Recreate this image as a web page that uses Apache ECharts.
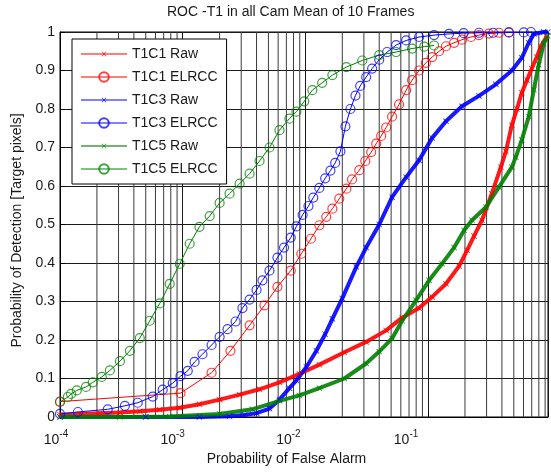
<!DOCTYPE html>
<html>
<head>
<meta charset="utf-8">
<script src="https://cdn.jsdelivr.net/npm/echarts@6/dist/echarts.min.js"></script>
<style>
  html, body { margin: 0; padding: 0; background: #fff; }
  #chart { width: 551px; height: 472px; }
</style>
</head>
<body>
<div id="chart"></div>
<script>
// ROC curves: probability of detection vs probability of false alarm (log x)
const xTickExponents = [-4, -3, -2, -1];
const yTickValues = [0, 0.1, 0.2, 0.3, 0.4, 0.5, 0.6, 0.7, 0.8, 0.9, 1];
const minorMultipliers = [2, 3, 4, 5, 6, 7, 8, 9];

// [false alarm rate, detection rate]
const t1c1Raw = [
  [1.0e-4, 0.006], [1.45e-4, 0.008], [2.11e-4, 0.010], [3.08e-4, 0.012], [4.47e-4, 0.015],
  [6.5e-4, 0.019], [9.46e-4, 0.024], [1.37e-3, 0.033], [2.0e-3, 0.045], [2.91e-3, 0.058],
  [4.23e-3, 0.072], [6.15e-3, 0.09], [8.94e-3, 0.112], [1.30e-2, 0.136], [2.08e-2, 0.168],
  [3.13e-2, 0.195], [4.56e-2, 0.225], [6.15e-2, 0.258], [8.45e-2, 0.283], [0.108, 0.312],
  [0.140, 0.346], [0.179, 0.392], [0.208, 0.433], [0.237, 0.47], [0.275, 0.511],
  [0.331, 0.58], [0.392, 0.649], [0.431, 0.69], [0.482, 0.758], [0.53, 0.80],
  [0.581, 0.842], [0.64, 0.875], [0.701, 0.905], [0.77, 0.935], [0.829, 0.962], [0.927, 0.988]
];
const t1c1Elrcc = [
  [1.0e-4, 0.04], [9.6e-4, 0.062], [1.72e-3, 0.115], [2.45e-3, 0.172], [3.51e-3, 0.238],
  [4.64e-3, 0.29], [5.92e-3, 0.338], [7.6e-3, 0.38], [9.27e-3, 0.424], [1.11e-2, 0.463],
  [1.30e-2, 0.498], [1.48e-2, 0.52], [1.66e-2, 0.541], [1.89e-2, 0.567], [2.16e-2, 0.593],
  [2.4e-2, 0.617], [2.75e-2, 0.641], [3.08e-2, 0.665], [3.44e-2, 0.688], [3.78e-2, 0.71],
  [4.15e-2, 0.73], [4.56e-2, 0.752], [5.09e-2, 0.78], [5.8e-2, 0.812], [6.63e-2, 0.849],
  [7.41e-2, 0.875], [8.45e-2, 0.9], [9.6e-2, 0.92], [0.108, 0.935], [0.123, 0.95],
  [0.140, 0.963], [0.163, 0.972], [0.189, 0.98], [0.224, 0.987], [0.260, 0.992],
  [0.313, 0.996], [0.378, 0.998], [0.456, 0.999]
];
const t1c3Raw = [
  [1.0e-4, 0], [5.0e-4, 0], [1.37e-3, 0], [2.41e-3, 0.002], [3.2e-3, 0.005], [4.0e-3, 0.01],
  [5.1e-3, 0.022], [6.15e-3, 0.045], [7.41e-3, 0.075], [8.45e-3, 0.095], [1.02e-2, 0.13],
  [1.23e-2, 0.172], [1.45e-2, 0.215], [1.66e-2, 0.255], [2.0e-2, 0.308], [2.6e-2, 0.39],
  [3.13e-2, 0.44], [4.0e-2, 0.5], [5.09e-2, 0.571], [6.63e-2, 0.623], [8.45e-2, 0.667],
  [0.108, 0.725], [0.140, 0.768], [0.189, 0.807], [0.26, 0.834], [0.357, 0.864],
  [0.482, 0.9], [0.581, 0.933], [0.662, 0.972], [0.728, 0.995], [0.877, 1.0], [0.946, 1.0]
];
const t1c3Elrcc = [
  [1.0e-4, 0.008], [1.40e-4, 0.013], [2.45e-4, 0.02], [3.38e-4, 0.029], [4.30e-4, 0.037],
  [5.70e-4, 0.053], [6.87e-4, 0.071], [8.3e-4, 0.088], [9.6e-4, 0.106], [1.10e-3, 0.12],
  [1.25e-3, 0.143], [1.45e-3, 0.163], [1.72e-3, 0.187], [2.0e-3, 0.208], [2.32e-3, 0.228],
  [2.7e-3, 0.248], [3.07e-3, 0.283], [3.51e-3, 0.305], [4.0e-3, 0.33], [4.47e-3, 0.355],
  [5.1e-3, 0.38], [5.92e-3, 0.414], [6.7e-3, 0.44], [7.6e-3, 0.466], [8.45e-3, 0.495],
  [9.5e-3, 0.525], [1.06e-2, 0.548], [1.16e-2, 0.57], [1.30e-2, 0.595], [1.45e-2, 0.62],
  [1.6e-2, 0.64], [1.75e-2, 0.66], [1.93e-2, 0.69], [2.12e-2, 0.755], [2.33e-2, 0.8],
  [2.56e-2, 0.835], [2.8e-2, 0.86], [3.13e-2, 0.883], [3.5e-2, 0.905], [4.0e-2, 0.928],
  [4.64e-2, 0.948], [5.49e-2, 0.966], [6.63e-2, 0.978], [8.45e-2, 0.987], [0.112, 0.992],
  [0.148, 0.995], [0.195, 0.997], [0.26, 0.998], [0.34, 0.998], [0.456, 0.999],
  [0.603, 0.999], [0.69, 1.0]
];
const t1c5Raw = [
  [1.0e-4, 0], [3.08e-4, 0], [7.84e-4, 0.001], [2.0e-3, 0.008], [3.7e-3, 0.02],
  [6.15e-3, 0.042], [8.94e-3, 0.056], [1.30e-2, 0.075], [2.08e-2, 0.1], [3.13e-2, 0.139],
  [4.0e-2, 0.17], [5.09e-2, 0.204], [6.15e-2, 0.25], [7.98e-2, 0.303], [0.102, 0.355],
  [0.13, 0.398], [0.163, 0.44], [0.197, 0.485], [0.228, 0.511], [0.296, 0.545],
  [0.378, 0.597], [0.482, 0.649], [0.519, 0.675], [0.581, 0.72], [0.662, 0.78],
  [0.728, 0.85], [0.798, 0.915], [0.877, 0.97], [0.946, 0.99]
];
const t1c5Elrcc = [
  [1.0e-4, 0.039], [1.16e-4, 0.052], [1.23e-4, 0.06], [1.37e-4, 0.069], [1.63e-4, 0.078],
  [1.85e-4, 0.09], [2.19e-4, 0.104], [2.55e-4, 0.121], [3.08e-4, 0.145], [3.71e-4, 0.172],
  [4.47e-4, 0.205], [5.39e-4, 0.25], [6.5e-4, 0.295], [7.84e-4, 0.346], [9.46e-4, 0.398],
  [1.14e-3, 0.45], [1.37e-3, 0.494], [1.66e-3, 0.522], [2.0e-3, 0.556], [2.41e-3, 0.58],
  [2.91e-3, 0.606], [3.51e-3, 0.632], [4.23e-3, 0.665], [5.1e-3, 0.7], [6.15e-3, 0.745],
  [7.41e-3, 0.775], [8.45e-3, 0.793], [9.8e-3, 0.82], [1.14e-2, 0.849], [1.37e-2, 0.868],
  [1.66e-2, 0.888], [2.16e-2, 0.909], [2.91e-2, 0.926], [4.0e-2, 0.94], [5.49e-2, 0.948],
  [7.41e-2, 0.957], [9.3e-2, 0.962], [0.112, 0.965]
];

const RED = '#ff0000', BLUE = '#0000ff', GREEN = '#008000';
const TEXT = '#1a1a1a';
const FONT = 'Liberation Sans, Arial, sans-serif';

// small "x" marker; the empty corners keep the cross at half the symbol box
const CROSS = 'path://M0,0M20,20M5,6L6,5L10,9L14,5L15,6L11,10L15,14L14,15L10,11L6,15L5,14L9,10Z';

// minor log grid: 2..9 within each decade, one vertical segment each
const minorGrid = [];
xTickExponents.forEach(e => minorMultipliers.forEach(m => minorGrid.push(m * Math.pow(10, e))));
const minorGridSeries = minorGrid.map(v => ({
  type: 'line', data: [[v, 0], [v, 1]], symbol: 'none', silent: true, z: 1,
  lineStyle: { color: '#3a3a3a', width: 1 }, emphasis: { disabled: true }
}));

function rawSeries(name, data, color) {
  return {
    name, type: 'line', data, symbol: CROSS, symbolSize: 12,
    lineStyle: { color, width: 4, opacity: 0.9 },
    itemStyle: { color, opacity: 0.8 },
    emphasis: { disabled: true }
  };
}
function elrccSeries(name, data, color) {
  return {
    name, type: 'line', data, symbol: 'circle', symbolSize: 9,
    lineStyle: { color, width: 1 },
    itemStyle: { color: 'rgba(255,255,255,0)', borderColor: color, borderWidth: 1.2, opacity: 0.75 },
    emphasis: { disabled: true }
  };
}

// exponent labels drift a little left of their ticks
const richX = { b: { fontSize: 14, fontFamily: FONT, color: TEXT } };
const expShift = [4, 10, 17, 22];
xTickExponents.forEach((e, i) => {
  richX['s' + i] = { fontSize: 10, fontFamily: FONT, color: TEXT, padding: [0, expShift[i] * 2, 12, 0] };
});

const chart = echarts.init(document.getElementById('chart'), null, { renderer: 'canvas' });
chart.setOption({
  animation: false,
  backgroundColor: '#fff',
  title: {
    text: 'ROC -T1 in all Cam Mean of 10 Frames',
    left: 167, top: 5, padding: 0,
    textStyle: { fontSize: 14, fontWeight: 'normal', color: TEXT, fontFamily: FONT }
  },
  grid: { left: 60, top: 32, width: 489, height: 385, show: true, borderColor: '#000', borderWidth: 1 },
  legend: {
    orient: 'vertical', left: 72, top: 39,
    padding: [8, 9, 8, 8], itemGap: 9, itemWidth: 46, itemHeight: 12,
    backgroundColor: '#fff', borderColor: '#000', borderWidth: 1,
    textStyle: { fontSize: 14, color: TEXT, fontFamily: FONT },
    data: [
      { name: 'T1C1 Raw', lineStyle: { width: 2, color: '#ff6f6f' } },
      { name: 'T1C1 ELRCC', lineStyle: { width: 1, color: RED } },
      { name: 'T1C3 Raw', lineStyle: { width: 2, color: '#7070ff' } },
      { name: 'T1C3 ELRCC', lineStyle: { width: 1, color: BLUE } },
      { name: 'T1C5 Raw', lineStyle: { width: 2, color: '#66a866' } },
      { name: 'T1C5 ELRCC', lineStyle: { width: 1, color: GREEN } }
    ]
  },
  xAxis: {
    type: 'log', logBase: 10, min: 1e-4, max: 0.95,
    name: 'Probability of False Alarm', nameLocation: 'middle', nameGap: 34,
    nameTextStyle: { fontSize: 14, color: TEXT, fontFamily: FONT, padding: [0, 35, 0, 0] },
    axisLine: { show: true, lineStyle: { color: '#000', width: 1 } },
    axisTick: { show: true, inside: true, length: 5, lineStyle: { color: '#000' } },
    splitLine: { show: true, lineStyle: { color: '#1a1a1a', width: 1 } },
    axisLabel: {
      margin: 12,
      formatter: v => {
        const l = Math.log10(v), e = Math.round(l);
        if (Math.abs(l - e) > 1e-6) return '';
        const i = xTickExponents.indexOf(e);
        return i < 0 ? '' : '{b|10}{s' + i + '|' + e + '}';
      },
      rich: richX
    }
  },
  yAxis: {
    type: 'value', min: 0, max: 1, interval: 0.1,
    name: 'Probability of Detection [Target pixels]', nameLocation: 'middle', nameGap: 36,
    nameRotate: 90,
    nameTextStyle: { fontSize: 14, color: TEXT, fontFamily: FONT, padding: [0, 12, 0, 0] },
    axisLine: { show: true, lineStyle: { color: '#000', width: 1 } },
    axisTick: { show: true, inside: true, length: 5, lineStyle: { color: '#000' } },
    splitLine: { show: true, lineStyle: { color: '#1a1a1a', width: 1 } },
    axisLabel: {
      margin: 5, fontSize: 14, color: TEXT, fontFamily: FONT,
      formatter: v => {
        const k = yTickValues.findIndex(t => Math.abs(t - v) < 1e-9);
        if (k < 0) return '';
        const t = yTickValues[k];
        return (t === 0 || t === 1) ? String(t) : t.toFixed(1);
      }
    }
  },
  series: minorGridSeries.concat([
    rawSeries('T1C1 Raw', t1c1Raw, RED),
    elrccSeries('T1C1 ELRCC', t1c1Elrcc, RED),
    rawSeries('T1C3 Raw', t1c3Raw, BLUE),
    elrccSeries('T1C3 ELRCC', t1c3Elrcc, BLUE),
    rawSeries('T1C5 Raw', t1c5Raw, GREEN),
    elrccSeries('T1C5 ELRCC', t1c5Elrcc, GREEN)
  ])
});
</script>
</body>
</html>
